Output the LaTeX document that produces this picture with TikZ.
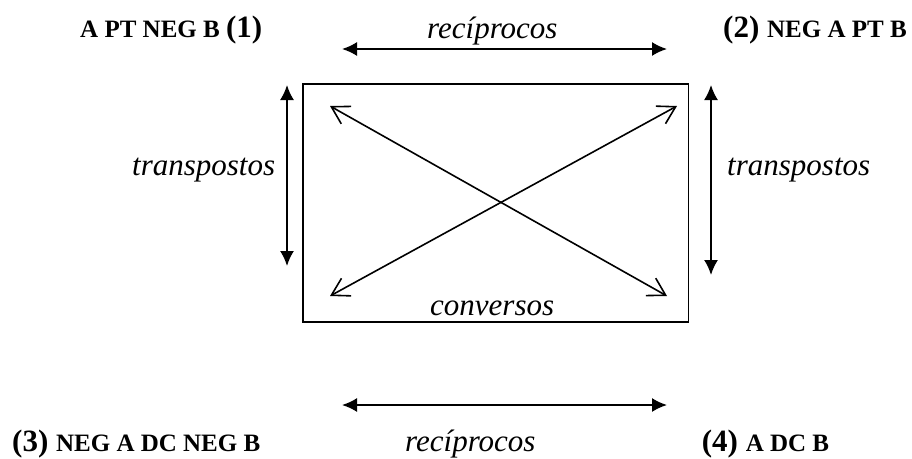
\documentclass[tikz,border=0pt]{standalone}
\usepackage{fontspec}
\setmainfont{Liberation Serif}
\usetikzlibrary{arrows.meta}
\tikzset{
  solidarrow/.style={line width=1.8pt, {Latex[length=15pt,width=14pt]}-{Latex[length=15pt,width=14pt]}},
  openarrow/.style={line width=1.6pt, {Straight Barb[length=17pt,width=20pt,line width=1.6pt]}-{Straight Barb[length=17pt,width=20pt,line width=1.6pt]}},
  ital/.style={font=\fontsize{31}{33}\selectfont\itshape, inner sep=0pt, anchor=base west},
  lab/.style={inner sep=0pt, anchor=base west},
}
\newcommand{\smb}{\fontsize{25}{27}\selectfont\bfseries}
\newcommand{\bigb}{\fontsize{31}{33}\selectfont\bfseries}
\begin{document}
\begin{tikzpicture}[x=1pt,y=-1pt]
\useasboundingbox (0,0) rectangle (912,458);
% box
\draw[line width=1.8pt] (303,84) rectangle (688.5,321.7);
% coordinates
\coordinate (tl) at (342,49);
\coordinate (tr) at (667,49);
\coordinate (bl) at (342,405);
\coordinate (br) at (667,405);
\coordinate (lt) at (287,85);
\coordinate (lb) at (287,266);
\coordinate (rt) at (711,85);
\coordinate (rb) at (711,275);
\coordinate (d1a) at (330,106);
\coordinate (d1b) at (667,296);
\coordinate (d2a) at (330,296);
\coordinate (d2b) at (677,106);
% arrows
\draw[solidarrow] (tl) -- (tr);
\draw[solidarrow] (bl) -- (br);
\draw[solidarrow] (lt) -- (lb);
\draw[solidarrow] (rt) -- (rb);
\draw[openarrow] (d1a) -- (d1b);
\draw[openarrow] (d2a) -- (d2b);
% labels
\node[ital] (rtop) at (427,38) {recíprocos};
\node[ital] (rbot) at (405,451) {recíprocos};
\node[ital] (tleft) at (132,175) {transpostos};
\node[ital] (tright) at (727,175) {transpostos};
\node[ital] (conv) at (430,315) {conversos};
\node[lab] (p1) at (80,37) {\smb A PT NEG B \bigb (1)};
\node[lab] (p2) at (723,37) {\bigb (2) \smb NEG A PT B};
\node[lab] (p3) at (12,451) {\bigb (3) \smb NEG A DC NEG B};
\node[lab] (p4) at (701.7,451) {\bigb (4) \smb A DC B};
\end{tikzpicture}
\end{document}
